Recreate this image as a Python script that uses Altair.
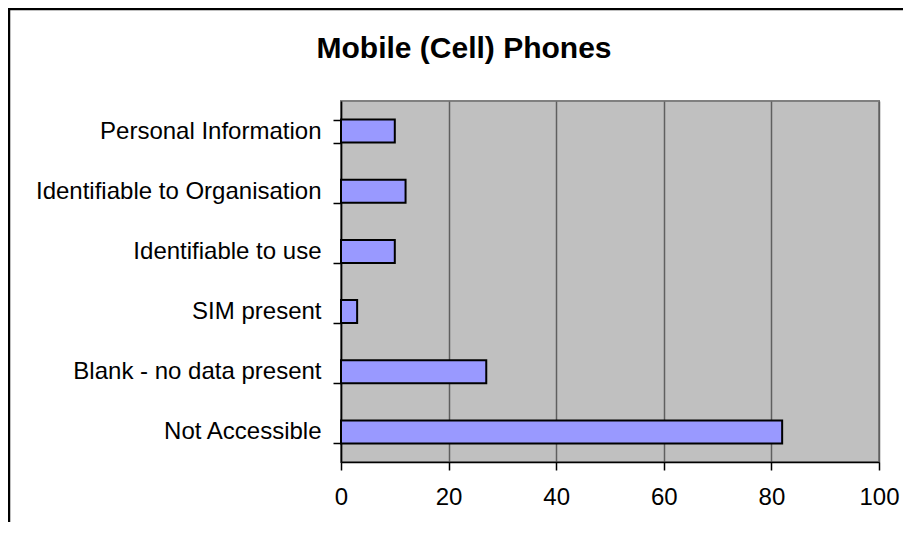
import altair as alt
import pandas as pd

categories = [
    "Personal Information",
    "Identifiable to Organisation",
    "Identifiable to use",
    "SIM present",
    "Blank - no data present",
    "Not Accessible",
]
values = [10, 12, 10, 3, 27, 82]
x_ticks = [0, 20, 40, 60, 80, 100]
title_text = "Mobile (Cell) Phones"

df = pd.DataFrame({"category": categories, "value": values})

FONT = "Liberation Sans"

bars = alt.Chart(df).mark_bar(
    fill="#9999FF", stroke="#000000", strokeWidth=2
).encode(
    x=alt.X(
        "value:Q",
        scale=alt.Scale(domain=[0, 100], nice=False, zero=True),
        axis=alt.Axis(
            values=x_ticks, title=None, grid=True, gridColor="#5f5f5f",
            gridWidth=1.5, domainColor="#000000", domainWidth=1.5,
            tickColor="#000000", tickSize=8, tickWidth=1.5,
            labelFontSize=24, labelFont=FONT, labelColor="#000000",
            labelPadding=15, labelFlush=False,
        ),
    ),
    y=alt.Y(
        "category:N",
        sort=categories,
        scale=alt.Scale(paddingInner=0.618, paddingOuter=0.309),
        axis=alt.Axis(
            title=None, tickBand="extent", domainColor="#000000",
            domainWidth=1.5, tickColor="#000000", tickSize=8, tickWidth=1.5,
            labelFontSize=24, labelFont=FONT, labelColor="#000000",
            labelPadding=12, labelLimit=400,
        ),
    ),
)

frame_data = alt.Data(values=[{"t": title_text}])
frame_top = alt.Chart(frame_data).mark_rule(
    color="#000000", strokeWidth=2.5, clip=False
).encode(x=alt.value(-333), x2=alt.value(700), y=alt.value(-92))
frame_left = alt.Chart(frame_data).mark_rule(
    color="#000000", strokeWidth=2.5, clip=False
).encode(x=alt.value(-332), y=alt.value(-93), y2=alt.value(600))
title_mark = alt.Chart(frame_data).mark_text(
    font=FONT, fontSize=30, fontWeight="bold", color="#000000",
    align="center", baseline="alphabetic", clip=False,
).encode(text="t:N", x=alt.value(123), y=alt.value(-43))

chart = alt.layer(bars, frame_top, frame_left, title_mark).properties(
    width=538,
    height=361,
    padding={"left": 333, "top": 93, "right": 24, "bottom": 60},
    autosize=alt.AutoSizeParams(type="none"),
    background="#FFFFFF",
).configure_view(
    fill="#C0C0C0", stroke="#808080", strokeWidth=2
)

chart.save("out.html", embed_options={"renderer": "svg", "actions": False})
